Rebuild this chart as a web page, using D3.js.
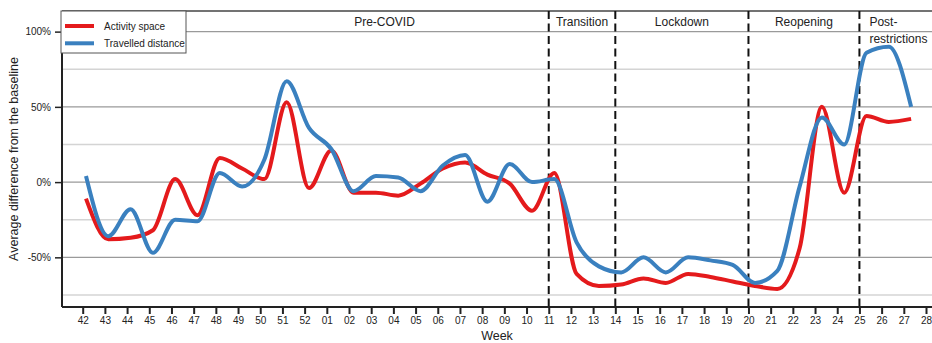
<!DOCTYPE html>
<html>
<head>
<meta charset="utf-8">
<script src="https://cdn.jsdelivr.net/npm/d3@7"></script>
<style>
  body { margin: 0; background: #fff; }
  text { font-family: 'Liberation Sans', Arial, sans-serif; fill: #222; }
</style>
</head>
<body>
<div id="chart"></div>
<script>
const W = 932, H = 343;
const MARGIN = { top: 11, right: 0, bottom: 37, left: 62 };

// week tick labels
const weeks = ['42', '43', '44', '45', '46', '47', '48', '49', '50', '51', '52',
  '01', '02', '03', '04', '05', '06', '07', '08', '09', '10', '11', '12', '13', '14',
  '15', '16', '17', '18', '19', '20', '21', '22', '23', '24', '25', '26', '27', '28'];

// weekly values (% difference from baseline), weeks 42 .. 27
const activitySpace = [-11, -38, -37, -32, 2, -22, 16, 9, 2, 53, -4, 21, -7, -7, -9, -1,
  9, 13, 5, -1, -19, 6, -61, -69, -68, -64, -67, -61, -63, -66, -69, -71, -44, 50, -7, 44, 40, 42];
const travelledDistance = [4, -36, -18, -47, -25, -26, 6, -3, 15, 67, 36, 22, -6, 4, 3, -6,
  11, 18, -13, 12, 0, 2, -40, -56, -60, -50, -60, -50, -52, -55, -67, -59, -3, 43, 25, 86, 90, 50];

const yTicks = [100, 50, 0, -50];
const gridMajor = [100, 50, 0, -50];
const gridMinor = [75, 25, -25, -75];

// phase boundaries (dashed lines) and labels
const phaseBreaks = ['11', '14', '20', '25'];
const phaseLabels = [
  { text: 'Pre-COVID', at: 13.6 },
  { text: 'Transition', at: 22.5 },
  { text: 'Lockdown', at: 27 },
  { text: 'Reopening', at: 32.5 }
];

const series = [
  { name: 'Activity space', values: activitySpace, color: '#e41a1c' },
  { name: 'Travelled distance', values: travelledDistance, color: '#3a80bf' }
];

const x0 = MARGIN.left, x1 = W - MARGIN.right;
const y0 = MARGIN.top, y1 = H - MARGIN.bottom + 1;

const svg = d3.select('#chart').append('svg').attr('width', W).attr('height', H);

const x = d3.scalePoint().domain(weeks).range([82.7, 926]);
const xi = d3.scaleLinear().domain([0, weeks.length - 1]).range([82.7, 926]);
// the lines sit slightly right of the ticks in the original
const xLine = d3.scaleLinear().domain([0, 37]).range([x('42') + 3.3, x('27') + 7.3]);
const y = d3.scaleLinear().domain([-83, 113.7]).range([y1, y0]);

// grid
svg.append('g').selectAll('line.minor').data(gridMinor).join('line')
  .attr('x1', x0).attr('x2', x1)
  .attr('y1', d => y(d)).attr('y2', d => y(d))
  .attr('stroke', '#d4d4d4').attr('stroke-width', 1.5);
svg.append('g').selectAll('line.major').data(gridMajor).join('line')
  .attr('x1', x0).attr('x2', x1)
  .attr('y1', d => y(d)).attr('y2', d => y(d))
  .attr('stroke', '#9a9a9a').attr('stroke-width', 1.2);

// top frame line
svg.append('line').attr('x1', x0).attr('x2', x1).attr('y1', y0).attr('y2', y0)
  .attr('stroke', '#444').attr('stroke-width', 1.5);

// phase dashed lines
svg.append('g').selectAll('line').data(phaseBreaks).join('line')
  .attr('x1', d => x(d)).attr('x2', d => x(d))
  .attr('y1', y0).attr('y2', y1)
  .attr('stroke', '#111').attr('stroke-width', 2)
  .attr('stroke-dasharray', '8,4.5');

// phase labels
svg.append('g').selectAll('text').data(phaseLabels).join('text')
  .attr('x', d => xi(d.at)).attr('y', 26)
  .attr('text-anchor', 'middle').style('font-size', '12px')
  .text(d => d.text);
const post = svg.append('text').attr('x', x('25') + 10).attr('y', 26).style('font-size', '12px');
post.append('tspan').attr('x', x('25') + 10).attr('y', 26).text('Post-');
post.append('tspan').attr('x', x('25') + 10).attr('y', 43).text('restrictions');

// lines
const line = d3.line()
  .x((d, i) => xLine(i))
  .y(d => y(d))
  .curve(d3.curveMonotoneX);

svg.append('g').selectAll('path').data(series).join('path')
  .attr('d', d => line(d.values))
  .attr('fill', 'none')
  .attr('stroke', d => d.color)
  .attr('stroke-width', 4)
  .attr('stroke-linejoin', 'round')
  .attr('stroke-linecap', 'butt');

// axes
const gx = svg.append('g').attr('transform', 'translate(0,' + y1 + ')')
  .call(d3.axisBottom(x).tickSize(7).tickPadding(3));
gx.select('.domain').attr('d', 'M' + x0 + ',0H' + x1).attr('stroke', '#222').attr('stroke-width', 2);
gx.selectAll('.tick line').attr('stroke', '#222').attr('stroke-width', 2);
gx.selectAll('.tick text').style('font-size', '10px').attr('fill', '#222')
  .style('font-family', "'Liberation Sans', Arial, sans-serif");

const gy = svg.append('g').attr('transform', 'translate(' + x0 + ',0)')
  .call(d3.axisLeft(y).tickValues(yTicks).tickSize(7).tickPadding(4).tickFormat(d => d + '%'));
gy.select('.domain').attr('d', 'M0,' + y0 + 'V' + y1).attr('stroke', '#222').attr('stroke-width', 2);
gy.selectAll('.tick line').attr('stroke', '#222').attr('stroke-width', 1.5);
gy.selectAll('.tick text').style('font-size', '10px').attr('fill', '#222')
  .style('font-family', "'Liberation Sans', Arial, sans-serif");

// axis titles
svg.append('text').attr('x', (x0 + x1) / 2).attr('y', 339.5)
  .attr('text-anchor', 'middle').style('font-size', '12.5px').text('Week');
svg.append('text')
  .attr('transform', 'translate(18,' + ((y0 + y1) / 2) + ') rotate(-90)')
  .attr('text-anchor', 'middle').style('font-size', '12.5px')
  .text('Average difference from the baseline');

// legend
const lg = svg.append('g');
lg.append('rect').attr('x', 61).attr('y', 11).attr('width', 125).attr('height', 42)
  .attr('fill', '#fff').attr('stroke', '#555').attr('stroke-width', 1);
series.forEach((s, i) => {
  const ly = 26 + i * 17.3;
  lg.append('line').attr('x1', 65).attr('x2', 94).attr('y1', ly).attr('y2', ly)
    .attr('stroke', s.color).attr('stroke-width', 4);
  lg.append('text').attr('x', 104).attr('y', ly + 3.5).style('font-size', '10px').text(s.name);
});
</script>
</body>
</html>
